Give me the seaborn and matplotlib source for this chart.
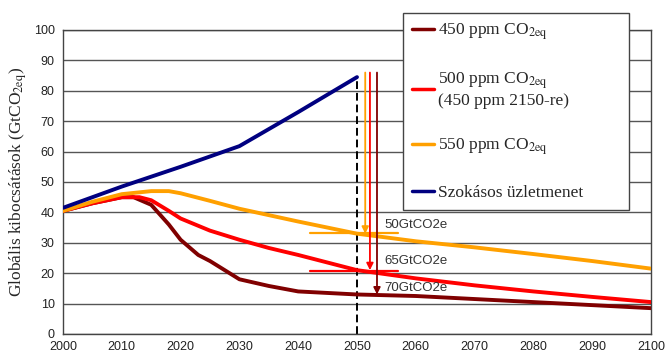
import matplotlib
matplotlib.use("Agg")
import matplotlib.pyplot as plt
import seaborn as sns

# Emission pathways (GtCO2eq)
bau_years = [2000, 2010, 2020, 2030, 2040, 2050]
bau_values = [41.5, 48.5, 55.0, 61.8, 73.0, 84.5]

p550_years = [2000, 2005, 2010, 2015, 2018, 2020, 2025, 2030, 2040, 2050, 2060, 2070, 2080, 2090, 2100]
p550_values = [40.5, 43.5, 46.0, 47.0, 47.0, 46.3, 43.8, 41.2, 37.0, 33.0, 30.5, 28.5, 26.3, 24.0, 21.5]

p500_years = [2000, 2005, 2010, 2013, 2015, 2018, 2020, 2025, 2030, 2035, 2040, 2050, 2060, 2070, 2080, 2090, 2100]
p500_values = [40.5, 43.0, 45.0, 45.0, 44.0, 40.5, 38.0, 34.0, 31.0, 28.3, 26.0, 21.0, 18.3, 16.0, 14.0, 12.2, 10.5]

p450_years = [2000, 2005, 2010, 2012, 2015, 2018, 2020, 2023, 2025, 2030, 2035, 2040, 2045, 2050, 2060, 2070, 2080, 2090, 2100]
p450_values = [40.5, 43.0, 45.0, 45.0, 42.5, 36.0, 31.0, 26.0, 24.0, 18.0, 15.8, 14.0, 13.5, 13.0, 12.5, 11.5, 10.5, 9.5, 8.5]

series_labels = [r"450 ppm CO$_\mathrm{2eq}$",
                 "500 ppm CO$_\\mathrm{2eq}$\n(450 ppm 2150-re)",
                 r"550 ppm CO$_\mathrm{2eq}$",
                 "Szokásos üzletmenet"]
series_colors = ["#800000", "#FF0000", "#FFA000", "#000080"]

# reduction arrows from the BAU 2050 level down to each pathway
arrow_x = [2051.4, 2052.2, 2053.4]
arrow_top = 86.0
arrow_bottom = [33.0, 21.0, 13.0]
arrow_colors = ["#FFA000", "#FF0000", "#800000"]
reduction_labels = ["50GtCO2e", "65GtCO2e", "70GtCO2e"]
reduction_label_y = [35.9, 24.0, 15.1]
marker_levels = [33.2, 20.8]
marker_colors = ["#FFA000", "#FF0000"]

sns.set_theme(style="white")
plt.rcParams["font.family"] = ["Liberation Sans", "DejaVu Sans"]
plt.rcParams["mathtext.fontset"] = "stix"

fig = plt.figure(figsize=(6.66, 3.6), dpi=100)
ax = fig.add_axes([63 / 666, 1 - 334 / 360, (651 - 63) / 666, (334 - 30) / 360])

ax.set_xlim(2000, 2100)
ax.set_ylim(0, 100)
ax.set_xticks(range(2000, 2101, 10))
ax.set_yticks(range(0, 101, 10))
ax.yaxis.grid(True, color="#555555", linewidth=1.0)
ax.set_axisbelow(True)
for side in ax.spines.values():
    side.set_color("#444444")
    side.set_linewidth(1.0)
ax.tick_params(axis="both", labelsize=9, colors="#222222", length=4, width=1)
ax.tick_params(axis="x", direction="in", pad=5)
ax.tick_params(axis="y", direction="out", pad=2)

# vertical marker at 2050
ax.plot([2050, 2050], [0, bau_values[-1]], color="black", linestyle=(0, (4, 2)), linewidth=1.4, zorder=2)

# horizontal markers at the 2050 pathway levels
for lvl, c in zip(marker_levels, marker_colors):
    ax.plot([2042, 2057], [lvl, lvl], color=c, linewidth=1.6, zorder=3)

lw = 2.8
sns.lineplot(x=p450_years, y=p450_values, ax=ax, color=series_colors[0], linewidth=lw, label=series_labels[0], zorder=4)
sns.lineplot(x=p500_years, y=p500_values, ax=ax, color=series_colors[1], linewidth=lw, label=series_labels[1], zorder=4)
sns.lineplot(x=p550_years, y=p550_values, ax=ax, color=series_colors[2], linewidth=lw, label=series_labels[2], zorder=4)
sns.lineplot(x=bau_years, y=bau_values, ax=ax, color=series_colors[3], linewidth=lw, label=series_labels[3], zorder=4)

for x, yb, c in zip(arrow_x, arrow_bottom, arrow_colors):
    ax.annotate("", xy=(x, yb), xytext=(x, arrow_top),
                arrowprops=dict(arrowstyle="-|>", color=c, lw=1.3, mutation_scale=10, shrinkA=0, shrinkB=0),
                zorder=5)

for lbl, y in zip(reduction_labels, reduction_label_y):
    ax.text(2054.6, y, lbl, fontsize=9.5, color="#333333", va="center", ha="left", zorder=6)

ax.set_xlabel("")
ax.set_ylabel(r"Globális kibocsátások (GtCO$_\mathrm{2eq}$)", family="Liberation Serif", fontsize=12.5, labelpad=3)

handles, labels = ax.get_legend_handles_labels()
ax.get_legend().remove()
leg = fig.legend(handles, labels, loc="upper left",
                 bbox_to_anchor=(403 / 666, 1 - 13 / 360, (629 - 403) / 666, 0.0),
                 mode="expand",
                 frameon=True, fancybox=False, edgecolor="#444444", framealpha=1,
                 prop={"family": "Liberation Serif", "size": 12.5},
                 handlelength=1.3, handletextpad=0.2, labelspacing=1.6, borderpad=0.5,
                 borderaxespad=0)
leg.get_frame().set_linewidth(1.0)
for line in leg.get_lines():
    line.set_linewidth(2.5)

fig.savefig("out.png", dpi=100)
